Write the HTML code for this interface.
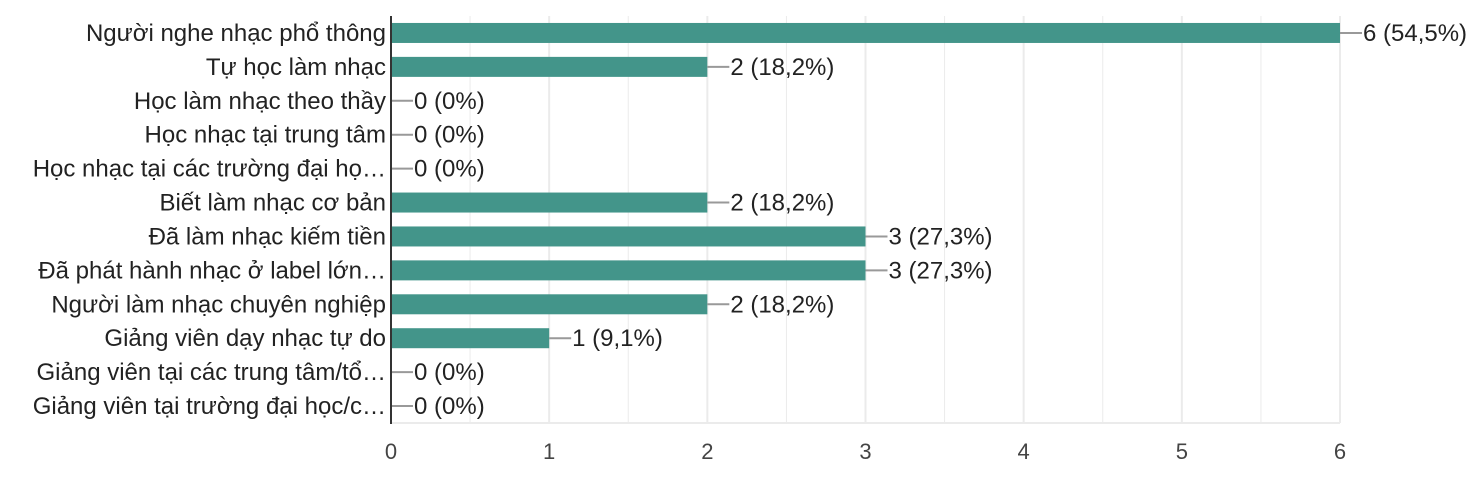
<!DOCTYPE html>
<html><head><meta charset="utf-8"><style>
body{margin:0;background:#fff;}
svg{display:block;font-family:"Liberation Sans",Arial,sans-serif;}
</style></head><body>
<svg id="chart" width="1482" height="482"></svg>
<script>
const categories=["Người nghe nhạc phổ thông","Tự học làm nhạc","Học làm nhạc theo thầy","Học nhạc tại trung tâm","Học nhạc tại các trường đại họ…","Biết làm nhạc cơ bản","Đã làm nhạc kiếm tiền","Đã phát hành nhạc ở label lớn…","Người làm nhạc chuyên nghiệp","Giảng viên dạy nhạc tự do","Giảng viên tại các trung tâm/tổ…","Giảng viên tại trường đại học/c…"];
const values=[6,2,0,0,0,2,3,3,2,1,0,0];
const valueLabels=["6 (54,5%)","2 (18,2%)","0 (0%)","0 (0%)","0 (0%)","2 (18,2%)","3 (27,3%)","3 (27,3%)","2 (18,2%)","1 (9,1%)","0 (0%)","0 (0%)"];
const ticks=[0,1,2,3,4,5,6];
const NS="http://www.w3.org/2000/svg";
const svgEl=document.getElementById('chart');
const x0=391,x1=1340,plotTop=16,plotBottom=423,maxV=6;
const xs=v=>x0+(x1-x0)*v/maxV;
const rowH=(plotBottom-plotTop)/categories.length;
const yc=i=>plotTop+rowH*(i+0.5);
function mk(t,a){const e=document.createElementNS(NS,t);for(const k in a)e.setAttribute(k,a[k]);svgEl.appendChild(e);return e;}
for(let v=0.5;v<=maxV;v+=0.5){
 const g=mk('line',{x1:xs(v),x2:xs(v),y1:plotTop,y2:plotBottom,stroke:'#ebebeb','stroke-width':Number.isInteger(v)?2:1});
 
 
}
const base=mk('line',{x1:x0,x2:x1,y1:plotBottom,y2:plotBottom,stroke:'#ebebeb','stroke-width':2});


ticks.forEach(t=>{
 const e=mk('text',{x:xs(t),y:459,'text-anchor':'middle','font-size':22,fill:'#444'});
 e.textContent=t;
 
 
});
categories.forEach((c,i)=>{
 const y=yc(i);
 const l=mk('text',{x:386,y:y+8,'text-anchor':'end','font-size':24,fill:'#222'});
 l.textContent=c;
 
 
 const w=xs(values[i])-x0;
 if(w>0){
  const b=mk('rect',{x:x0,y:y-10,width:w,height:20,fill:'#43958a'});
  
  
 }
 const ex=xs(values[i]);
 const ld=mk('line',{x1:ex,x2:ex+22,y1:y,y2:y,stroke:'#999','stroke-width':2});
 
 
 const v=mk('text',{x:ex+23,y:y+8,'font-size':24,fill:'#222'});
 v.textContent=valueLabels[i];
 
 
});
const ax=mk('line',{x1:x0,x2:x0,y1:plotTop,y2:plotBottom+1,stroke:'#333','stroke-width':2});


</script>
</body></html>
